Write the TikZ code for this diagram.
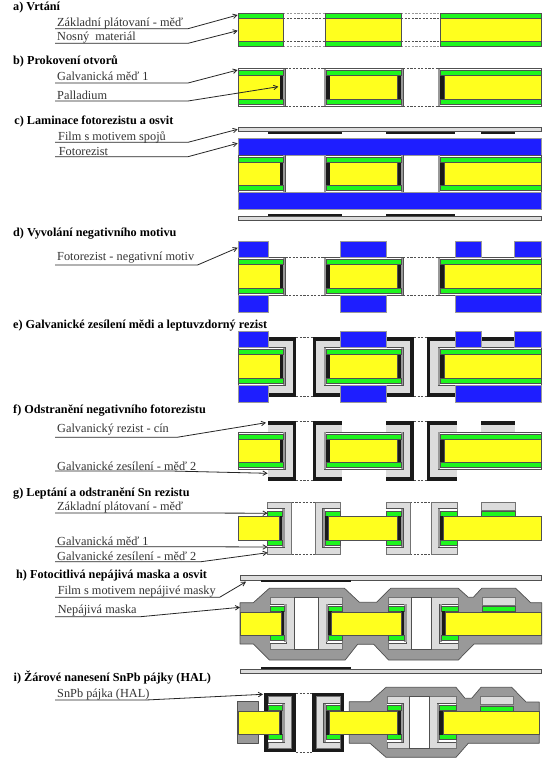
\documentclass[tikz,border=0pt]{standalone}
\usepackage{fontspec}
\setmainfont{Liberation Serif}
\usetikzlibrary{arrows.meta}
\definecolor{cugreen}{HTML}{1EF51E}
\definecolor{fryellow}{HTML}{FFFF1E}
\definecolor{resblue}{HTML}{1E1EFF}
\definecolor{sn}{HTML}{1A1A1A}
\definecolor{cuii}{HTML}{DCDCDC}
\definecolor{cui}{HTML}{999999}
\definecolor{maskgray}{HTML}{999999}
\definecolor{edgec}{HTML}{505050}
\tikzset{
  cu/.style={fill=cugreen,draw=edgec,line width=.5pt},
  yel/.style={fill=fryellow,draw=edgec,line width=.5pt},
  blk/.style={fill=sn},
  res/.style={fill=resblue,draw=cui,line width=.4pt},
  lg/.style={fill=cuii,draw=edgec!80,line width=.6pt},
  lgn/.style={fill=cuii},
  band/.style={fill=cui},
  shell/.style={fill=white,draw=edgec,line width=.6pt},
  holest/.style={fill=white,draw=edgec,line width=.6pt},
  mask/.style={fill=maskgray,draw=edgec,line width=.7pt,line join=round},
  filmst/.style={fill=cuii,draw=edgec,line width=.7pt},
  gapline/.style={draw=edgec,line width=.6pt,dash pattern=on 2.2pt off 1.4pt},
  gapgray/.style={draw=cui,line width=.7pt,dash pattern=on 2.2pt off 1.4pt},
  lead/.style={draw=black!85,line width=.8pt,-{Straight Barb[length=4pt,width=4.5pt]}},
  ttl/.style={anchor=west,inner sep=0pt,font=\fontsize{12.2}{14}\selectfont\bfseries},
  lab/.style={anchor=west,inner sep=0pt,text=black!80,font=\fontsize{12.3}{14}\selectfont}
}
\newcommand{\rc}[5]{\path[#1] (#2,#3) rectangle (#4,#5);}
% plated board, top at #1
\newcommand{\plated}[1]{%
 \begin{scope}[yshift=-#1pt]
  \rc{shell}{238}{0}{285.4}{37.5}\rc{shell}{323.8}{0}{403.2}{37.5}\rc{shell}{438}{0}{541.3}{37.5}
  \rc{band}{283}{.4}{285.2}{37.1}\rc{band}{324}{.4}{326.2}{37.1}\rc{band}{401}{.4}{403}{37.1}\rc{band}{438.2}{.4}{440.2}{37.1}
  \rc{yel}{238}{7}{280}{30.5}\rc{yel}{329.5}{7}{397.5}{30.5}\rc{yel}{443.8}{7}{541.3}{30.5}
  \rc{blk}{280}{7}{283.2}{30.5}\rc{blk}{326.3}{7}{329.5}{30.5}\rc{blk}{397.5}{7}{401}{30.5}\rc{blk}{440.2}{7}{443.8}{30.5}
  \rc{cu}{238}{2}{283}{7}\rc{cu}{326.3}{2}{401}{7}\rc{cu}{440.2}{2}{541.3}{7}
  \rc{cu}{238}{30.5}{283}{35.5}\rc{cu}{326.3}{30.5}{401}{35.5}\rc{cu}{440.2}{30.5}{541.3}{35.5}
 \end{scope}}
% galvanic copper and tin, black top at #1, height 59.6
\newcommand{\tinned}[1]{%
 \begin{scope}[yshift=-#1pt]
  \rc{blk}{268}{0}{296.2}{59.6}\rc{lgn}{268}{3.5}{292.6}{56.1}
  \rc{blk}{312.8}{0}{341.6}{59.6}\rc{lgn}{316.4}{3.5}{341.6}{56.1}
  \rc{blk}{385.8}{0}{413.9}{59.6}\rc{lgn}{385.8}{3.5}{410.3}{56.1}
  \rc{blk}{426.7}{0}{457.3}{59.6}\rc{lgn}{430.3}{3.5}{457.3}{56.1}
  \rc{blk}{480.8}{0}{515}{3.5}\rc{lgn}{480.8}{3.5}{515}{12}
 \end{scope}}
% etched via, board on the left of the hole: light left, copper right, light right
\newcommand{\vR}[3]{%
  \rc{lg}{#1}{0}{#3}{52}
  \path[shell] (#1,6.5) -- (#2+2.4,6.5) -- (#2+2.4,45.5) -- (#1,45.5);
  \rc{band}{#2}{7}{#2+2.2}{45}
  \rc{cu}{#1}{9}{#2}{14}\rc{cu}{#1}{38}{#2}{43}
  \rc{blk}{#2-3.4}{14}{#2}{38}}
% etched via, board on the right of the hole: light left, copper left, light right
\newcommand{\vL}[3]{%
  \rc{lg}{#1}{0}{#3}{52}
  \path[shell] (#3,6.5) -- (#2-2.4,6.5) -- (#2-2.4,45.5) -- (#3,45.5);
  \rc{band}{#2-2.2}{7}{#2}{45}
  \rc{cu}{#2}{9}{#3}{14}\rc{cu}{#2}{38}{#3}{43}
  \rc{blk}{#2}{14}{#2+3.4}{38}}
% copper pad with dry top
\newcommand{\pad}[2]{\rc{lg}{#1}{0}{#2}{7.6}\rc{cu}{#1}{9.2}{#2}{14.2}}
% labelled lead: name, text, text x, text cy, underline y, elbow x, tip x, tip y
\newcommand{\lbl}[8]{%
  \node[lab] (#1) at (#3,#4) {#2};
  \coordinate (#1u) at (55,#5);
  \coordinate (#1e) at (#6,#5);
  \coordinate (#1t) at (#7,#8);
  \draw[lead] (#1u) -- (#1e) -- (#1t);}
\begin{document}
\begin{tikzpicture}[x=1pt,y=-1pt]
\useasboundingbox (0,0) rectangle (556,769);
\fill[white] (0,0) rectangle (556,769);
% titles
\node[ttl] (ta) at (13,7.3) {a) Vrtání};
\node[ttl] (tb) at (13,61) {b) Prokovení otvorů};
\node[ttl] (tc) at (14.2,121.7) {c) Laminace fotorezistu a osvit};
\node[ttl] (td) at (13,234) {d) Vyvolání negativního motivu};
\node[ttl] (te) at (13,326) {e) Galvanické zesílení mědi a leptuvzdorný rezist};
\node[ttl] (tf) at (13,410.7) {f) Odstranění negativního fotorezistu};
\node[ttl] (tg) at (13,493.3) {g) Leptání a odstranění Sn rezistu};
\node[ttl] (th) at (16,575.7) {h) Fotocitlivá nepájivá maska a osvit};
\node[ttl] (ti) at (13.5,677.7) {i) Žárové nanesení SnPb pájky (HAL)};
% ---- a
\foreach \xa/\xb in {283/325.5,401/440}{
  \draw[gapgray] (\xa,13.5)--(\xb,13.5); \draw[gapline] (\xa,18.5)--(\xb,18.5);
  \draw[gapline] (\xa,41)--(\xb,41); \draw[gapgray] (\xa,46.5)--(\xb,46.5);}
\foreach \xa/\xb in {238/283,325.5/401,440/541.3}{
  \rc{yel}{\xa}{18.5}{\xb}{41}\rc{cu}{\xa}{13.5}{\xb}{18.5}\rc{cu}{\xa}{41}{\xb}{46.5}}
% ---- b
\plated{68.5}
\foreach \xa/\xb in {285.4/323.8,403.2/438}{
  \draw[gapline] (\xa,68.5)--(\xb,68.5); \draw[gapline] (\xa,106)--(\xb,106);}
% ---- c
\rc{filmst}{238}{127.5}{541.3}{131.5}
\rc{blk}{268}{131.5}{341.6}{133.5}\rc{blk}{385.8}{131.5}{455.2}{133.5}\rc{blk}{480.8}{131.5}{515}{133.5}
\rc{res}{238}{138.5}{541.3}{155}
\plated{155}
\rc{res}{238}{192.5}{541.3}{209}
\rc{filmst}{238}{216}{541.3}{220}
\rc{blk}{268}{214.3}{341.6}{216}\rc{blk}{385.8}{214.3}{455.2}{216}
% ---- d
\plated{257.5}
\foreach \xa/\xb in {285.4/323.8,403.2/438}{
  \draw[gapline] (\xa,257.5)--(\xb,257.5); \draw[gapline] (\xa,295)--(\xb,295);}
\foreach \xa/\xb in {238/268,340.6/385.8,454.8/480.8,514.6/541.3}{\rc{res}{\xa}{241}{\xb}{257.4}}
\foreach \xa/\xb in {238/268,340.6/385.8,454.8/541.3}{\rc{res}{\xa}{295}{\xb}{311.7}}
% ---- e
\foreach \xa/\xb in {296.2/312.8,413.9/426.7}{
  \draw[gapline] (\xa,337.2)--(\xb,337.2); \draw[gapline] (\xa,396.3)--(\xb,396.3);}
\tinned{337}
\plated{347.6}
\foreach \xa/\xb in {238/268,340.6/385.8,454.8/480.8,514.6/541.3}{\rc{res}{\xa}{331}{\xb}{347.5}}
\foreach \xa/\xb in {238/268,340.6/385.8,454.8/541.3}{\rc{res}{\xa}{385.1}{\xb}{401.7}}
% ---- f
\foreach \xa/\xb in {296.2/312.8,413.9/426.7}{
  \draw[gapline] (\xa,421.2)--(\xb,421.2); \draw[gapline] (\xa,480.3)--(\xb,480.3);}
\tinned{421}
\plated{432}
% ---- g
\foreach \xa/\xb in {291.7/315,410/431}{
  \draw[gapline] (\xa,502)--(\xb,502); \draw[gapline] (\xa,554.3)--(\xb,554.3);}
\begin{scope}[yshift=-502.2pt]
  \vR{267.3}{282.3}{291.7}\vL{315}{325}{340}\vR{385.8}{401}{410}\vL{431}{440.2}{457.3}
  \pad{480.8}{515}
  \rc{yel}{238}{14.2}{279}{37.8}\rc{yel}{328.4}{14.2}{397.6}{37.8}\rc{yel}{443.6}{14.2}{541.3}{37.8}
\end{scope}
% ---- h
\rc{filmst}{240}{575.7}{541.7}{580}
\rc{blk}{261}{580}{351}{581.7}
\path[mask] (240,602.7) -- (253.3,602.7) -- (269.3,588.3) -- (344.5,588.3) -- (359.4,602.3) -- (376.5,602.3) -- (390.7,588.3) -- (458.3,588.3) -- (468.3,597.3) -- (473.3,597.3) -- (481.7,588.3) -- (515.7,588.3) -- (530.7,602.7) -- (541.7,602.7) -- (541.7,644) -- (474,644) -- (458.3,660) -- (388.6,660) -- (373.7,644.3) -- (357.6,644.3) -- (345.2,660) -- (269.3,660) -- (253.3,644) -- (240,644) -- cycle;
\begin{scope}[yshift=-597.3pt]
  \vR{270}{284.3}{294.3}\vL{318.3}{328.3}{342.3}\vR{388.6}{404.3}{411.7}\vL{431.7}{441.7}{458.3}
  \rc{holest}{294.3}{0}{318.3}{52}\rc{holest}{411.7}{0}{431.7}{52}
  \pad{482.3}{515.7}
  \rc{yel}{240.7}{14.5}{281}{37.6}\rc{yel}{331.7}{14.5}{400.8}{37.6}\rc{yel}{445}{14.5}{541.7}{37.6}
\end{scope}
\rc{filmst}{240}{669}{541.7}{673.7}
\rc{blk}{261}{667.3}{351}{669}
% ---- i
\rc{mask}{237.7}{701.7}{258.7}{743.3}
\path[mask] (349.3,701.7) -- (370,701.7) -- (386,687.3) -- (456,687.3) -- (465,698.3) -- (471.7,698.3) -- (481,687.3) -- (511.7,687.3) -- (526,702) -- (539.3,702) -- (539.3,743.3) -- (468.3,743.3) -- (456,757.3) -- (386,757.3) -- (370,743.3) -- (349.3,743.3) -- cycle;
\rc{blk}{263.7}{692.7}{296}{752.3}\rc{blk}{312.3}{692.7}{344.3}{752.3}
\foreach \yy in {692.9,752.1}{\draw[gapline] (296,\yy)--(312.3,\yy);}
\begin{scope}[yshift=-696.7pt]
  \vR{268.3}{282.3}{291.7}\vL{316.7}{326}{340}\vR{386.9}{401}{409.3}\vL{429.3}{439.3}{456}
  \rc{holest}{409.3}{0}{429.3}{51.6}
  \pad{480}{513.3}
  \rc{yel}{238.3}{14.3}{279}{37.3}\rc{yel}{329.3}{14.3}{397.5}{37.3}\rc{yel}{443.3}{14.3}{539.3}{37.3}
\end{scope}
% ---- labels and leads
\lbl{la}{Základní plátovaní - měď}{57}{23.3}{28.7}{188}{237.7}{15}
\lbl{lb}{Nosný\ \ materiál}{57}{37.7}{43.3}{188}{237.7}{30.7}
\lbl{lc}{Galvanická měď 1}{57}{76}{83}{188}{237.7}{70}
\lbl{ld}{Palladium}{57}{95.3}{101}{188}{278.3}{86.7}
\lbl{le}{Film s motivem spojů}{58}{137.3}{142.3}{188}{237.7}{129.3}
\lbl{lf}{Fotorezist}{58.7}{151.7}{156.7}{188}{237.7}{143.3}
\lbl{lg}{Fotorezist - negativní motiv}{57}{257.7}{265}{197.5}{237.7}{247.7}
\lbl{lh}{Galvanický rezist - cín}{57}{430}{437.3}{177}{266}{422.7}
\lbl{li}{Galvanické zesílení - měď 2}{57}{466}{471}{171}{267.6}{473.3}
\lbl{lj}{Základní plátovaní - měď}{57}{507.7}{513}{188}{267.6}{513.2}
\lbl{lk}{Galvanická měď 1}{57}{541.7}{546.7}{188}{267.6}{547}
\lbl{ll}{Galvanické zesílení - měď 2}{57}{556}{561.7}{201}{267.6}{552.7}
\lbl{lm}{Film s motivem nepájivé masky}{57.6}{591.7}{597.3}{219.6}{246}{581.7}
\lbl{ln}{Nepájivá maska}{57.6}{610.3}{616.7}{140.5}{240}{607.3}
\lbl{lo}{SnPb pájka (HAL)}{57}{694.3}{700}{146}{263}{694.3}
\end{tikzpicture}
\end{document}
